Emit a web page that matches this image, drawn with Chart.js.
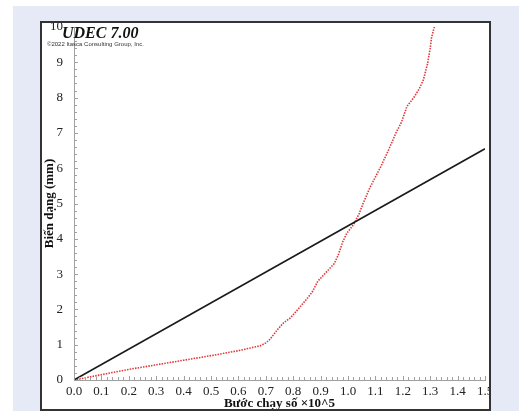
<!DOCTYPE html>
<html>
<head>
<meta charset="utf-8">
<script src="https://cdn.jsdelivr.net/npm/chart.js@4.4.1/dist/chart.umd.min.js"></script>
<style>
html,body{margin:0;padding:0;background:#fff;}
#wrap{width:523px;height:411px;position:relative;}
</style>
</head>
<body>
<div id="wrap"><canvas id="c" width="523" height="411"></canvas></div>
<script>
// Data (x in units of 10^5 steps, y in mm)
const stepX = [0, 0.1, 0.2, 0.3, 0.4, 0.5, 0.6, 0.68, 0.70, 0.715, 0.73, 0.745, 0.765, 0.79, 0.815, 0.85, 0.87, 0.89, 0.92, 0.95, 0.965, 0.98, 0.995, 1.02, 1.04, 1.055, 1.08, 1.10, 1.12, 1.15, 1.175, 1.195, 1.215, 1.24, 1.26, 1.275, 1.29, 1.30, 1.305, 1.315];
const deformation = [0, 0.15, 0.30, 0.43, 0.56, 0.69, 0.83, 0.97, 1.05, 1.15, 1.30, 1.45, 1.62, 1.76, 1.98, 2.30, 2.50, 2.80, 3.05, 3.30, 3.55, 3.90, 4.15, 4.40, 4.70, 5.00, 5.45, 5.75, 6.05, 6.55, 7.00, 7.30, 7.75, 8.00, 8.25, 8.50, 8.95, 9.40, 9.70, 10.0];
const lineX = [0, 1.5];
const lineY = [0, 6.55];
const xTickLabels = ["0.0","0.1","0.2","0.3","0.4","0.5","0.6","0.7","0.8","0.9","1.0","1.1","1.2","1.3","1.4","1.5"];
const yTickLabels = ["0","1","2","3","4","5","6","7","8","9","10"];
const xTitle = "Bước chạy số ×10^5";
const yTitle = "Biến dạng (mm)";
const headTitle = "UDEC 7.00";
const copyright = "©2022 Itasca Consulting Group, Inc.";

const redData = stepX.map((x, i) => ({x: x, y: deformation[i]}));
const blackData = lineX.map((x, i) => ({x: x, y: lineY[i]}));

const LAV = '#e6eaf6';
const frame = {
  id: 'frame',
  beforeDraw(chart) {
    const ctx = chart.ctx;
    ctx.save();
    ctx.fillStyle = '#fff';
    ctx.fillRect(0, 0, 523, 411);
    ctx.fillStyle = LAV;
    ctx.fillRect(13, 6, 506, 405);
    ctx.fillStyle = '#fff';
    ctx.fillRect(41, 22, 449, 389);
    ctx.restore();
  },
  afterDatasetsDraw(chart) {
    const ctx = chart.ctx;
    const xs = chart.scales.x, ys = chart.scales.y;
    ctx.save();
    ctx.strokeStyle = '#a0a0a0';
    ctx.lineWidth = 1;
    ctx.beginPath();
    for (let i = 0; i <= 75; i++) {
      const px = Math.round(xs.getPixelForValue(i * 0.02)) + 0.5;
      const len = (i % 5 === 0) ? 4 : 3;
      ctx.moveTo(px, ys.bottom);
      ctx.lineTo(px, ys.bottom - len);
    }
    for (let i = 0; i <= 50; i++) {
      const py = Math.round(ys.getPixelForValue(i * 0.2)) + 0.5;
      const len = (i % 5 === 0) ? 4 : 3;
      ctx.moveTo(xs.left, py);
      ctx.lineTo(xs.left + len, py);
    }
    ctx.stroke();
    ctx.restore();
  },
  afterDraw(chart) {
    const ctx = chart.ctx;
    ctx.save();
    ctx.fillStyle = LAV;
    ctx.fillRect(491, 6, 28, 405);
    ctx.fillStyle = '#fff';
    ctx.fillRect(519, 0, 4, 411);
    ctx.strokeStyle = '#333';
    ctx.lineWidth = 2;
    ctx.strokeRect(41, 22, 449, 388);
    ctx.fillStyle = '#111';
    ctx.font = 'italic bold 16px "Liberation Serif"';
    ctx.textBaseline = 'alphabetic';
    ctx.fillText(headTitle, 62, 38);
    ctx.font = '6px "Liberation Sans"';
    ctx.fillStyle = '#333';
    ctx.fillText(copyright, 47, 46);
    ctx.restore();
  }
};

new Chart(document.getElementById('c'), {
  type: 'scatter',
  data: {
    datasets: [
      {
        data: blackData, showLine: true, borderColor: '#1a1a1a', borderWidth: 1.6,
        pointRadius: 0, fill: false
      },
      {
        data: redData, showLine: true, borderColor: '#e0383a', borderWidth: 1.6,
        borderDash: [1.5, 1.2], pointRadius: 0, fill: false, tension: 0
      }
    ]
  },
  options: {
    responsive: false,
    animation: false,
    devicePixelRatio: 1,
    layout: { padding: { left: 38, right: 38, top: 27, bottom: 0 } },
    plugins: { legend: { display: false }, tooltip: { enabled: false } },
    scales: {
      x: {
        type: 'linear', min: 0, max: 1.5,
        afterFit(s) { s.height = 31; },
        grid: { drawOnChartArea: false, drawTicks: false, color: '#a0a0a0' },
        border: { color: '#a0a0a0', width: 1 },
        ticks: {
          stepSize: 0.1, padding: 4, color: '#222', maxRotation: 0, autoSkip: false,
          font: { family: '"Liberation Serif"', size: 13 },
          callback: (v) => xTickLabels[Math.round(v * 10)] ?? ''
        },
        title: {
          display: true, text: xTitle, color: '#111',
          font: { family: '"Liberation Serif"', size: 13, weight: 'bold' },
          padding: { top: 0, bottom: 0 }
        }
      },
      y: {
        type: 'linear', min: 0, max: 10,
        afterFit(s) { s.width = 36; },
        grid: { drawOnChartArea: false, drawTicks: false, color: '#a0a0a0' },
        border: { color: '#a0a0a0', width: 1 },
        ticks: {
          stepSize: 1, padding: 11, color: '#222', autoSkip: false,
          font: { family: '"Liberation Serif"', size: 13 },
          callback: (v) => yTickLabels[Math.round(v)] ?? ''
        },
        title: {
          display: true, text: yTitle, color: '#111',
          font: { family: '"Liberation Serif"', size: 13, weight: 'bold' },
          padding: { top: 4, bottom: 0 }
        }
      }
    }
  },
  plugins: [frame]
});
</script>
</body>
</html>
